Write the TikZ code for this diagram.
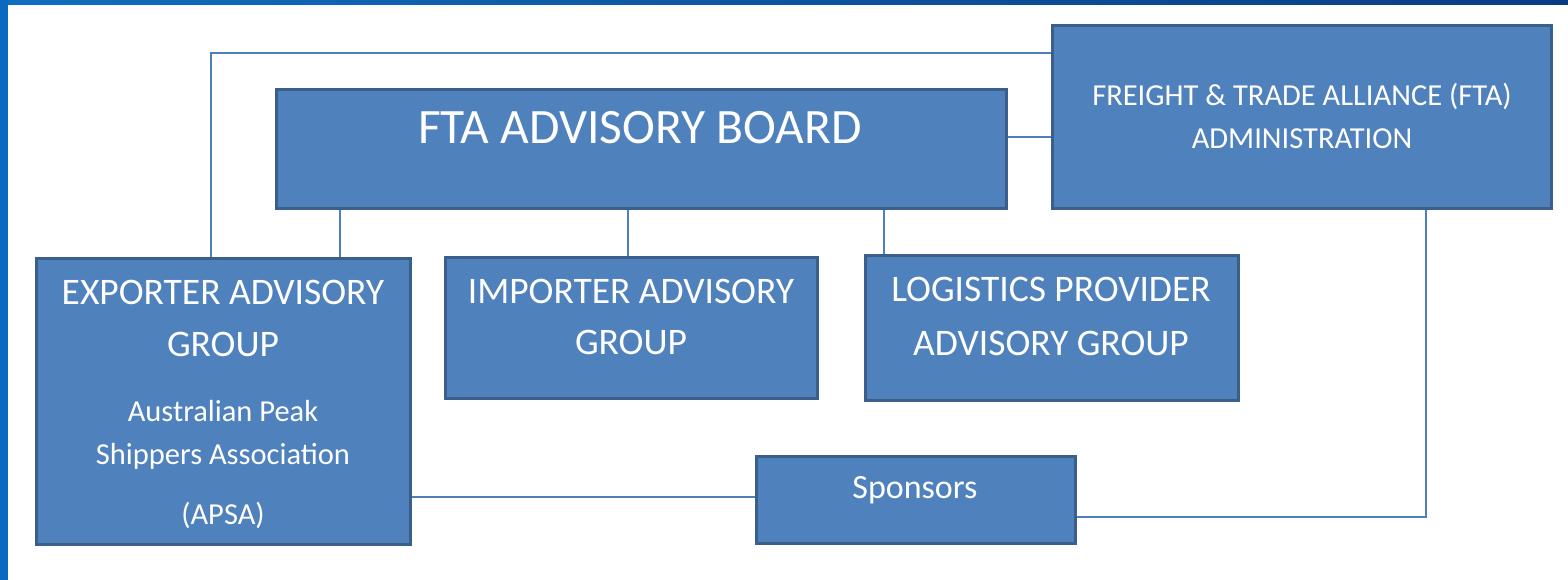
\documentclass[tikz,border=0pt]{standalone}
\usepackage{fontspec}
\setmainfont{Carlito}
\definecolor{boxfill}{HTML}{4F81BD}
\definecolor{boxline}{HTML}{3A5F8B}
\definecolor{conn}{HTML}{4F7FB8}
\definecolor{bandL}{HTML}{0F6DBF}
\definecolor{bandR}{HTML}{0A3C84}
\definecolor{strip}{HTML}{0B6ABF}
\newcommand{\fsz}[1]{\fontsize{#1}{#1}\selectfont}
\begin{document}
\begin{tikzpicture}[x=1pt,y=-1pt,
  orgbox/.style={draw=boxline, fill=boxfill, line width=3.5pt, inner sep=0pt, rectangle},
  txt/.style={text=white, anchor=base, inner sep=0pt},
  link/.style={draw=conn, line width=2pt}]
\useasboundingbox (0,0) rectangle (1568,580);
\fill[white] (0,0) rectangle (1568,580);
\shade[left color=bandL, right color=bandR] (0,0) rectangle (1568,5);
\fill[strip] (0,0) rectangle (8,580);

% boxes
\node[orgbox, minimum width=730pt, minimum height=119pt] (board) at (641.5,149) {};
\node[orgbox, minimum width=499pt, minimum height=183pt] (fta) at (1302,117) {};
\node[orgbox, minimum width=374pt, minimum height=286pt] (exp) at (223.5,401.5) {};
\node[orgbox, minimum width=372pt, minimum height=141pt] (imp) at (631.5,328) {};
\node[orgbox, minimum width=373pt, minimum height=145pt] (log) at (1052,328) {};
\node[orgbox, minimum width=319pt, minimum height=87pt] (spo) at (916,500) {};

% connector guide coordinates
\coordinate (ga) at (211,53);
\coordinate (gb) at (340,0);
\coordinate (gc) at (628,0);
\coordinate (gd) at (884,0);
\coordinate (ge) at (0,137);
\coordinate (gf) at (1426,517);
\coordinate (gg) at (0,497);

\draw[link] (exp.north -| ga) -- (ga) -- (fta.west |- ga);
\draw[link] (board.south -| gb) -- (exp.north -| gb);
\draw[link] (board.south -| gc) -- (imp.north -| gc);
\draw[link] (board.south -| gd) -- (log.north -| gd);
\draw[link] (board.east |- ge) -- (fta.west |- ge);
\draw[link] (fta.south -| gf) -- (gf) -- (spo.east |- gf);
\draw[link] (exp.east |- gg) -- (spo.west |- gg);

% texts
\node[txt, font=\fsz{49.5}] (t1) at (640,144) {FTA ADVISORY BOARD};
\node[txt, font=\fsz{30.5}] (t2) at (1302,106) {FREIGHT \& TRADE ALLIANCE (FTA)};
\node[txt, font=\fsz{30.5}] (t3) at (1302,149) {ADMINISTRATION};
\node[txt, font=\fsz{37.5}] (t4) at (223,304) {EXPORTER ADVISORY};
\node[txt, font=\fsz{37.5}] (t5) at (223,356) {GROUP};
\node[txt, font=\fsz{30.5}] (t6) at (223,421) {Australian Peak};
\node[txt, font=\fsz{30.5}] (t7) at (223,464) {Shippers Association};
\node[txt, font=\fsz{30.5}] (t8) at (223,524) {(APSA)};
\node[txt, font=\fsz{37.5}] (t9) at (631,303) {IMPORTER ADVISORY};
\node[txt, font=\fsz{37.5}] (t10) at (631,354) {GROUP};
\node[txt, font=\fsz{37.5}] (t11) at (1051,301) {LOGISTICS PROVIDER};
\node[txt, font=\fsz{37.5}] (t12) at (1051,355) {ADVISORY GROUP};
\node[txt, font=\fsz{34}] (t13) at (915,498) {Sponsors};
\end{tikzpicture}
\end{document}
